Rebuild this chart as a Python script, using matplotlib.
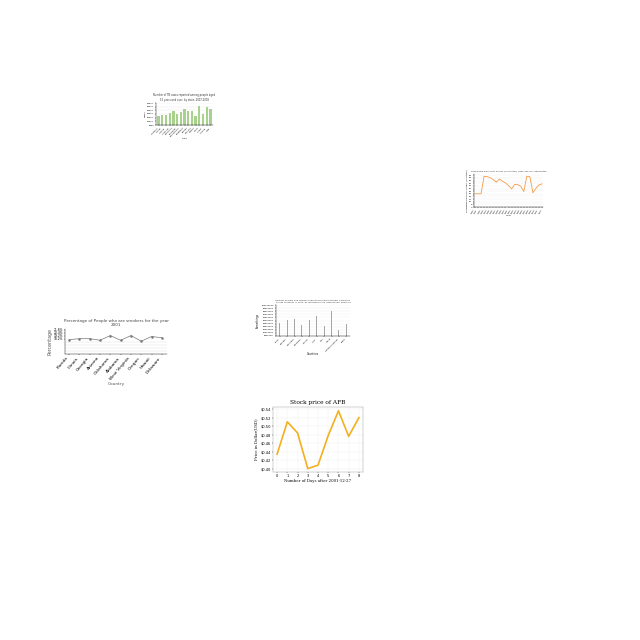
import matplotlib.pyplot as plt
import numpy as np

# chart 1: green bars
bar_labels = ['Alabama', 'Alaska', 'Arizona', 'Arkansas', 'California', 'Colorado',
              'Connecticut', 'Delaware', 'Florida', 'Georgia', 'Hawaii', 'Idaho',
              'Illinois', 'Indiana', 'Iowa']
bar_values = [25, 28, 27, 33, 38, 29, 35, 45, 37, 38, 25, 52, 30, 48, 43]

# chart 2: orange line
line_years = [str(y) for y in range(1990, 2013)]
line_values = [40, 40, 40, 93, 92, 89, 83, 75, 85, 78, 73, 65, 55, 68, 68, 63,
               47, 93, 92, 43, 57, 67, 70]

# chart 3: smokers percentage
smoke_states = ['Florida', 'Illinois', 'Georgia', 'Arizona', 'Oklahoma', 'Alabama',
                'West Virginia', 'Oregon', 'Hawaii', 'Delaware']
smoke_values = [19.2, 19.8, 19.8, 18.8, 21.8, 18.8, 21.8, 18.2, 21.2, 20.4]
smoke_ticks = ['18.2%', '19.2%', '20.4%', '21.8%']

# chart 4: thin gray bars
cnt_labels = ['Brazil', 'Canada', 'Denmark', 'Germany', 'France', 'India',
              'Italy', 'Japan', 'United Kingdom', 'Spain']
cnt_values = [43, 53, 56, 35, 53, 65, 33, 80, 18, 38]

# chart 5: stock price
days = list(range(9))
prices = [0.434, 0.510, 0.484, 0.400, 0.408, 0.478, 0.536, 0.476, 0.520]

fig = plt.figure(figsize=(6.4, 6.4), dpi=100)


def ax_at(x0, y0, x1, y1):
    return fig.add_axes([x0 / 640, 1 - y1 / 640, (x1 - x0) / 640, (y1 - y0) / 640])


def thin(ax, fs):
    for s in ax.spines.values():
        s.set_linewidth(0.3)
    ax.tick_params(labelsize=fs, width=0.3, length=1, pad=0.5)


# 1
ax1 = ax_at(156, 103, 213, 125)
ax1.bar(range(len(bar_values)), bar_values, color='#a9d18e', width=0.6)
ax1.set_xticks(range(len(bar_labels)))
ax1.set_xticklabels(bar_labels, rotation=45, ha='right')
ax1.set_ylim(0, 60)
ax1.set_yticks(range(0, 61, 10))
ax1.set_yticklabels(['%d000' % v for v in range(0, 61, 10)])
ax1.set_xlim(-0.7, len(bar_values) - 0.3)
ax1.grid(axis='y', linewidth=0.2, color='#dddddd')
ax1.set_axisbelow(True)
thin(ax1, 1.6)
ax1.spines['top'].set_visible(False)
ax1.spines['right'].set_visible(False)
ax1.set_title('Number of TB cases reported among people aged\n15 years and over, by state, 2007-2008',
              fontsize=1.8, color='#333333', pad=1.5)
ax1.set_ylabel('Cases', fontsize=1.6, labelpad=1)
ax1.set_xlabel('State', fontsize=1.6, labelpad=0.5)

# 2
ax2 = ax_at(474, 174, 543, 207)
ax2.plot(range(len(line_values)), line_values, color='#f39c4a', linewidth=0.6)
ax2.set_xticks(range(len(line_years)))
ax2.set_xticklabels(line_years, rotation=60, ha='right')
ax2.set_ylim(0, 100)
ax2.set_yticks(range(0, 101, 8))
ax2.set_xlim(-0.3, len(line_values) - 0.7)
ax2.grid(axis='y', linewidth=0.2, color='#e5e5e5')
thin(ax2, 1.6)
ax2.spines['top'].set_visible(False)
ax2.spines['right'].set_visible(False)
ax2.set_title('Renewable electricity output (% of total), 1990-2012 in Afghanistan',
              fontsize=1.6, color='#333333', pad=1.5)
ax2.set_ylabel('Renewable electricity output (% of total)', fontsize=1.5, labelpad=1)
ax2.set_xlabel('Year', fontsize=1.6, labelpad=0.5)

# 3
ax3 = ax_at(65, 329, 167, 354)
ax3.plot(range(len(smoke_values)), smoke_values, color='#777777', linewidth=0.5,
         marker='o', markersize=0.8)
ax3.set_xticks(range(len(smoke_states)))
ax3.set_xticklabels(smoke_states, rotation=50, ha='right')
ax3.set_ylim(10, 26)
ax3.set_yticks([19.6, 21.6, 23.6, 25.6])
ax3.set_yticklabels(smoke_ticks)
for gy in [17.5, 15.5, 13.7, 12.0]:
    ax3.axhline(gy, color='#dddddd', linewidth=0.3, zorder=0)
ax3.set_xlim(-0.4, len(smoke_values) - 0.5)
thin(ax3, 3.2)
ax3.tick_params(axis='y', labelsize=2.2)
ax3.spines['top'].set_visible(False)
ax3.spines['right'].set_visible(False)
ax3.set_title('Percentage of People who are smokers for the year\n2001',
              fontsize=3.0, color='#444444', pad=2)
ax3.set_ylabel('Percentage', fontsize=3.4, color='#555555', labelpad=1)
ax3.set_xlabel('Country', fontsize=3.2, color='#555555', labelpad=1)

# 4
ax4 = ax_at(276, 305, 350, 336)
ax4.bar(range(len(cnt_values)), cnt_values, color='#a6a6a6', width=0.12)
ax4.set_xticks(range(len(cnt_labels)))
ax4.set_xticklabels(cnt_labels, rotation=45, ha='right')
ax4.set_ylim(0, 100)
ax4.set_yticks(range(0, 101, 10))
ax4.set_yticklabels(['%d000000' % v for v in range(0, 101, 10)])
ax4.set_xlim(-0.5, len(cnt_values) - 0.5)
ax4.grid(axis='y', linewidth=0.2, color='#e5e5e5')
ax4.set_axisbelow(True)
thin(ax4, 1.6)
ax4.spines['top'].set_visible(False)
ax4.spines['right'].set_visible(False)
ax4.set_title('Number of male and female students enrolled in tertiary education\nacross countries in 2005, as reported by the international agencies',
              fontsize=1.6, color='#333333', pad=1.5)
ax4.set_ylabel('Somethings', fontsize=1.8, labelpad=1)
ax4.set_xlabel('Countries', fontsize=1.8, labelpad=0.5)

# 5
ax5 = ax_at(273, 407, 363, 472)
ax5.plot(days, prices, color='#f2b01e', linewidth=1.2)
ax5.set_xticks(days)
ax5.set_ylim(0.392, 0.545)
ax5.set_yticks(np.arange(0.40, 0.5401, 0.02))
ax5.set_yticklabels(['$%.2f' % v for v in np.arange(0.40, 0.5401, 0.02)])
ax5.set_xlim(-0.4, 8.4)
ax5.grid(linewidth=0.3, color='#eeeeee')
thin(ax5, 2.6)
for s in ax5.spines.values():
    s.set_color('#999999')
ax5.set_title('Stock price of AFB', fontsize=4.2, family='DejaVu Serif', pad=2)
ax5.set_ylabel('Price in Dollar(USD)', fontsize=2.8, family='DejaVu Serif', labelpad=1.5)
ax5.set_xlabel('Number of Days after 2001-12-27', fontsize=2.8, family='DejaVu Serif', labelpad=1)

fig.savefig('out.png', dpi=100)
